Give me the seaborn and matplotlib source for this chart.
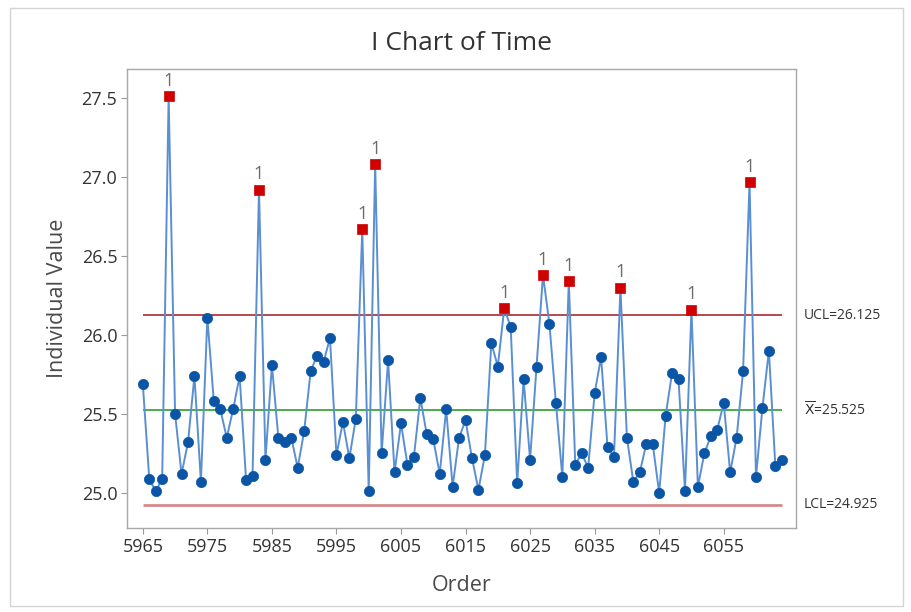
import numpy as np
import pandas as pd
import matplotlib
matplotlib.use("Agg")
import matplotlib.pyplot as plt
import seaborn as sns

# ---------------------------------------------------------------
# Data (I chart of Time, 100 obs)
# ---------------------------------------------------------------
first_order = 5965
time_values = [
    25.69, 25.09, 25.01, 25.09, 27.51, 25.50, 25.12, 25.32, 25.74, 25.07,
    26.11, 25.58, 25.53, 25.35, 25.53, 25.74, 25.08, 25.11, 26.92, 25.21,
    25.81, 25.35, 25.32, 25.35, 25.16, 25.39, 25.77, 25.87, 25.83, 25.98,
    25.24, 25.45, 25.22, 25.47, 26.67, 25.01, 27.08, 25.25, 25.84, 25.13,
    25.44, 25.18, 25.23, 25.60, 25.37, 25.34, 25.12, 25.53, 25.04, 25.35,
    25.46, 25.22, 25.02, 25.24, 25.95, 25.80, 26.17, 26.05, 25.06, 25.72,
    25.21, 25.80, 26.38, 26.07, 25.57, 25.10, 26.34, 25.18, 25.25, 25.16,
    25.63, 25.86, 25.29, 25.23, 26.30, 25.35, 25.07, 25.13, 25.31, 25.31,
    25.00, 25.49, 25.76, 25.72, 25.01, 26.16, 25.04, 25.25, 25.36, 25.40,
    25.57, 25.13, 25.35, 25.77, 26.97, 25.10, 25.54, 25.90, 25.17, 25.21,
]
order = list(range(first_order, first_order + len(time_values)))

ucl = 26.125
center = 25.525
lcl = 24.925

x_ticks = list(range(5965, 6056, 10))
y_ticks = [25.0, 25.5, 26.0, 26.5, 27.0, 27.5]

df = pd.DataFrame({"Order": order, "Time": time_values})
df["out"] = df["Time"] > ucl

# ---------------------------------------------------------------
sns.set_style("white")
plt.rcParams["font.family"] = ["Open Sans", "DejaVu Sans"]

fig = plt.figure(figsize=(9.11, 6.12), dpi=100)
ax = fig.add_axes([127 / 911, 1 - 528 / 612, (796 - 127) / 911, (528 - 69) / 612])

# thin frame round the whole graph window
fig.add_artist(plt.Rectangle((10 / 911, 6 / 612), 893 / 911, 598 / 612,
                             transform=fig.transFigure, fill=False,
                             edgecolor="#d4d4d4", linewidth=1.0))

# control limits
ax.hlines(ucl, order[0], order[-1], color="#a3161a", linewidth=1.1, zorder=1)
ax.hlines(center, order[0], order[-1], color="#3aa63a", linewidth=1.3, zorder=1)
ax.hlines(lcl, order[0], order[-1], color="#d48a8c", linewidth=2.0, zorder=1)

sns.lineplot(data=df, x="Order", y="Time", ax=ax, color="#5a8fd2",
             linewidth=1.4, zorder=2)
sns.scatterplot(data=df[~df["out"]], x="Order", y="Time", ax=ax,
                color="#0a55a6", marker="o", s=55, edgecolor="#0a55a6",
                linewidth=0.5, zorder=3)
sns.scatterplot(data=df[df["out"]], x="Order", y="Time", ax=ax,
                color="#d10000", marker="s", s=55, edgecolor="#d10000",
                linewidth=0.5, zorder=4)

for _, r in df[df["out"]].iterrows():
    ax.annotate("1", (r["Order"], r["Time"]), xytext=(0, 4.5),
                textcoords="offset points", ha="center", va="bottom",
                fontsize=13, color="#6b6b6b")

ax.set_xlim(5962.55, 6066.2)
ax.set_ylim(24.778, 27.684)
ax.set_xticks(x_ticks)
ax.set_yticks(y_ticks)
ax.set_yticklabels([f"{v:.1f}" for v in y_ticks])
ax.tick_params(axis="both", which="both", direction="out", length=4,
               width=0.8, color="#9a9a9a", labelsize=13, labelcolor="#333333",
               bottom=True, left=True, pad=3)

for s in ax.spines.values():
    s.set_color("#a8a8a8")
    s.set_linewidth(1.0)

ax.set_xlabel("Order", fontsize=15.5, color="#4a4a4a", labelpad=14)
ax.set_ylabel("Individual Value", fontsize=15.5, color="#4a4a4a", labelpad=10)
ax.set_title("I Chart of Time", fontsize=19, color="#333333", pad=14)

# limit labels to the right of the plot
lab_kw = dict(transform=ax.get_yaxis_transform(), fontsize=10,
              color="#333333", va="center", ha="left", clip_on=False)
ax.text(1.012, ucl, f"UCL={ucl:.3f}", **lab_kw)
ax.text(1.012, center, r"$\overline{\mathrm{X}}$" + f"={center:.3f}", **lab_kw)
ax.text(1.012, lcl, f"LCL={lcl:.3f}", **lab_kw)

fig.savefig("out.png", dpi=100)
